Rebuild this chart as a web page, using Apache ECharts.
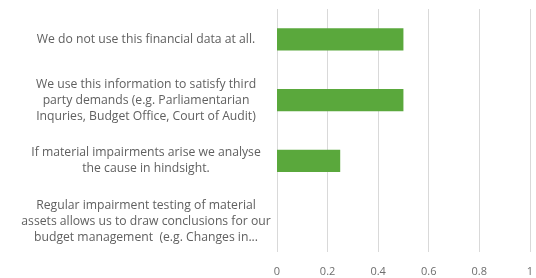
<!DOCTYPE html>
<html><head><meta charset="utf-8">
<script src="https://cdn.jsdelivr.net/npm/echarts@6/dist/echarts.min.js"></script>
<style>html,body{margin:0;padding:0;background:#fff}#c{width:536px;height:278px}</style>
</head><body><div id="c"></div>
<script>
const categories = [
  "We do not use this financial data at all.",
  "We use this information to satisfy third\nparty demands (e.g. Parliamentarian\nInquries, Budget Office, Court of Audit)",
  "If material impairments arise we analyse\nthe cause in hindsight.",
  "Regular impairment testing of material\nassets allows us to draw conclusions for our\nbudget management  (e.g. Changes in..."
];
const values = [0.5, 0.5, 0.25, 0];
const xTicks = [0, 0.2, 0.4, 0.6, 0.8, 1];

const chart = echarts.init(document.getElementById('c'));
chart.setOption({
  animation: false,
  grid: {left: 277, right: 1, top: 9, bottom: 26, containLabel: false},
  xAxis: {
    type: 'value', min: 0, max: 1, interval: 0.2,
    axisLine: {show: false}, axisTick: {show: false},
    splitLine: {lineStyle: {color: '#d9d9d9', width: 1}},
    axisLabel: {color: '#6e6e6e', fontSize: 11, fontFamily: 'Open Sans', margin: 14,
      formatter: v => xTicks.includes(Math.round(v*10)/10) ? String(Math.round(v*10)/10) : ''}
  },
  yAxis: {
    type: 'category', data: categories, inverse: true,
    axisLine: {show: false}, axisTick: {show: false},
    axisLabel: {color: '#606060', fontSize: 12.2, fontFamily: 'Open Sans', lineHeight: 16, margin: 131, align: 'center'}
  },
  series: [{
    type: 'bar', data: values, barWidth: '37%',
    itemStyle: {color: '#5aa83c'}
  }]
});
</script></body></html>
